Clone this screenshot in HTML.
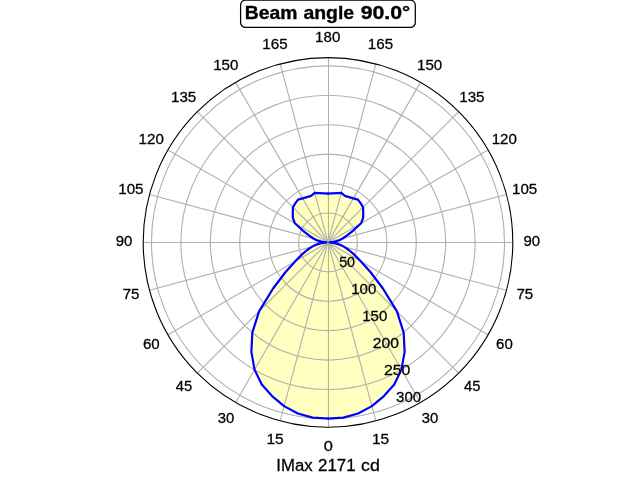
<!DOCTYPE html>
<html><head><meta charset="utf-8"><title>Beam angle</title>
<style>
html,body{margin:0;padding:0;background:#fff;}
body{width:640px;height:480px;overflow:hidden;font-family:"Liberation Sans",sans-serif;}
svg{display:block;}
text{font-family:"Liberation Sans",sans-serif;fill:#000;}
</style></head><body>
<svg width="640" height="480" viewBox="0 0 640 480">
<rect x="0" y="0" width="640" height="480" fill="#ffffff"/>

<path d="M328.00 242.40 L328.00 418.50 L343.33 417.63 L358.18 413.56 L371.87 406.12 L383.92 396.04 L394.22 384.42 L401.45 369.62 L404.63 351.84 L403.66 332.56 L396.94 311.34 L382.93 288.49 L370.60 272.23 L360.74 261.30 L354.28 254.66 L348.86 249.99 L343.84 246.64 L339.62 244.45 L334.18 242.94 L329.60 242.40 L334.18 241.86 L338.83 240.49 L342.68 238.47 L347.08 235.46 L352.92 230.78 L361.08 223.30 L363.14 217.79 L363.24 212.83 L363.07 207.33 L360.78 203.33 L357.94 199.64 L353.40 198.41 L349.13 197.08 L344.93 195.89 L341.28 192.85 L336.70 193.06 L332.30 193.29 L328.00 193.50 L328.00 242.40 Z" fill="#ffffbf" stroke="none"/>
<path d="M328.00 242.40 L328.00 418.50 L312.67 417.63 L297.82 413.56 L284.13 406.12 L272.08 396.04 L261.78 384.42 L254.55 369.62 L251.37 351.84 L252.34 332.56 L259.06 311.34 L273.07 288.49 L285.40 272.23 L295.26 261.30 L301.72 254.66 L307.14 249.99 L312.16 246.64 L316.38 244.45 L321.82 242.94 L326.40 242.40 L321.82 241.86 L317.17 240.49 L313.32 238.47 L308.92 235.46 L303.08 230.78 L294.92 223.30 L292.86 217.79 L292.76 212.83 L292.93 207.33 L295.22 203.33 L298.06 199.64 L302.60 198.41 L306.87 197.08 L311.07 195.89 L314.72 192.85 L319.30 193.06 L323.70 193.29 L328.00 193.50 L328.00 242.40 Z" fill="#ffffbf" stroke="none"/>
<rect x="327" y="193.50" width="1" height="225.00" fill="#ffff84"/>
<g stroke="#b0b0b0" stroke-width="1.11" fill="none">
<circle cx="328.00" cy="242.40" r="29.42"/>
<circle cx="328.00" cy="242.40" r="58.84"/>
<circle cx="328.00" cy="242.40" r="88.26"/>
<circle cx="328.00" cy="242.40" r="117.68"/>
<circle cx="328.00" cy="242.40" r="147.10"/>
<circle cx="328.00" cy="242.40" r="176.52"/>
<line x1="328.00" y1="242.40" x2="375.83" y2="420.90"/>
<line x1="328.00" y1="242.40" x2="280.17" y2="420.90"/>
<line x1="328.00" y1="242.40" x2="420.40" y2="402.44"/>
<line x1="328.00" y1="242.40" x2="235.60" y2="402.44"/>
<line x1="328.00" y1="242.40" x2="458.67" y2="373.07"/>
<line x1="328.00" y1="242.40" x2="197.33" y2="373.07"/>
<line x1="328.00" y1="242.40" x2="488.04" y2="334.80"/>
<line x1="328.00" y1="242.40" x2="167.96" y2="334.80"/>
<line x1="328.00" y1="242.40" x2="506.50" y2="290.23"/>
<line x1="328.00" y1="242.40" x2="149.50" y2="290.23"/>
<line x1="328.00" y1="242.40" x2="506.50" y2="194.57"/>
<line x1="328.00" y1="242.40" x2="149.50" y2="194.57"/>
<line x1="328.00" y1="242.40" x2="488.04" y2="150.00"/>
<line x1="328.00" y1="242.40" x2="167.96" y2="150.00"/>
<line x1="328.00" y1="242.40" x2="458.67" y2="111.73"/>
<line x1="328.00" y1="242.40" x2="197.33" y2="111.73"/>
<line x1="328.00" y1="242.40" x2="420.40" y2="82.36"/>
<line x1="328.00" y1="242.40" x2="235.60" y2="82.36"/>
<line x1="328.00" y1="242.40" x2="375.83" y2="63.90"/>
<line x1="328.00" y1="242.40" x2="280.17" y2="63.90"/>
</g>
<rect x="328" y="57.60" width="1" height="369.60" fill="#b0b0b0"/>
<rect x="143.20" y="242" width="369.60" height="1" fill="#b0b0b0"/>
<path d="M328.00 418.50 L343.33 417.63 L358.18 413.56 L371.87 406.12 L383.92 396.04 L394.22 384.42 L401.45 369.62 L404.63 351.84 L403.66 332.56 L396.94 311.34 L382.93 288.49 L370.60 272.23 L360.74 261.30 L354.28 254.66 L348.86 249.99 L343.84 246.64 L339.62 244.45 L334.18 242.94 L329.60 242.40 L334.18 241.86 L338.83 240.49 L342.68 238.47 L347.08 235.46 L352.92 230.78 L361.08 223.30 L363.14 217.79 L363.24 212.83 L363.07 207.33 L360.78 203.33 L357.94 199.64 L353.40 198.41 L349.13 197.08 L344.93 195.89 L341.28 192.85 L336.70 193.06 L332.30 193.29 L328.00 193.50" fill="none" stroke="#0000ff" stroke-width="2.2" stroke-linejoin="round" stroke-linecap="square"/>
<path d="M328.00 418.50 L312.67 417.63 L297.82 413.56 L284.13 406.12 L272.08 396.04 L261.78 384.42 L254.55 369.62 L251.37 351.84 L252.34 332.56 L259.06 311.34 L273.07 288.49 L285.40 272.23 L295.26 261.30 L301.72 254.66 L307.14 249.99 L312.16 246.64 L316.38 244.45 L321.82 242.94 L326.40 242.40 L321.82 241.86 L317.17 240.49 L313.32 238.47 L308.92 235.46 L303.08 230.78 L294.92 223.30 L292.86 217.79 L292.76 212.83 L292.93 207.33 L295.22 203.33 L298.06 199.64 L302.60 198.41 L306.87 197.08 L311.07 195.89 L314.72 192.85 L319.30 193.06 L323.70 193.29 L328.00 193.50" fill="none" stroke="#0000ff" stroke-width="2.2" stroke-linejoin="round" stroke-linecap="square"/>
<circle cx="328.00" cy="242.40" r="184.80" fill="none" stroke="#000" stroke-width="1.11"/>
<g opacity="0.999">
<text transform="translate(323.84 451.00) scale(1.1483 1)" font-size="14.30" font-weight="normal" stroke="#000" stroke-width="0.28">0</text>
<text transform="translate(371.90 444.00) scale(1.0823 1)" font-size="14.30" font-weight="normal" stroke="#000" stroke-width="0.28">15</text>
<text transform="translate(266.38 444.00) scale(1.0823 1)" font-size="14.30" font-weight="normal" stroke="#000" stroke-width="0.28">15</text>
<text transform="translate(421.63 423.00) scale(1.0405 1)" font-size="14.30" font-weight="normal" stroke="#000" stroke-width="0.28">30</text>
<text transform="translate(217.78 423.00) scale(1.0405 1)" font-size="14.30" font-weight="normal" stroke="#000" stroke-width="0.28">30</text>
<text transform="translate(464.08 391.00) scale(1.0305 1)" font-size="14.30" font-weight="normal" stroke="#000" stroke-width="0.28">45</text>
<text transform="translate(175.79 391.00) scale(1.0305 1)" font-size="14.30" font-weight="normal" stroke="#000" stroke-width="0.28">45</text>
<text transform="translate(496.09 349.00) scale(1.0507 1)" font-size="14.30" font-weight="normal" stroke="#000" stroke-width="0.28">60</text>
<text transform="translate(143.01 349.00) scale(1.0507 1)" font-size="14.30" font-weight="normal" stroke="#000" stroke-width="0.28">60</text>
<text transform="translate(516.45 299.00) scale(1.0558 1)" font-size="14.30" font-weight="normal" stroke="#000" stroke-width="0.28">75</text>
<text transform="translate(122.64 299.00) scale(1.0558 1)" font-size="14.30" font-weight="normal" stroke="#000" stroke-width="0.28">75</text>
<text transform="translate(523.48 246.00) scale(1.0456 1)" font-size="14.30" font-weight="normal" stroke="#000" stroke-width="0.28">90</text>
<text transform="translate(115.78 246.00) scale(1.0456 1)" font-size="14.30" font-weight="normal" stroke="#000" stroke-width="0.28">90</text>
<text transform="translate(512.02 194.00) scale(1.0602 1)" font-size="14.30" font-weight="normal" stroke="#000" stroke-width="0.28">105</text>
<text transform="translate(118.21 194.00) scale(1.0602 1)" font-size="14.30" font-weight="normal" stroke="#000" stroke-width="0.28">105</text>
<text transform="translate(491.66 144.00) scale(1.0568 1)" font-size="14.30" font-weight="normal" stroke="#000" stroke-width="0.28">120</text>
<text transform="translate(138.58 144.00) scale(1.0568 1)" font-size="14.30" font-weight="normal" stroke="#000" stroke-width="0.28">120</text>
<text transform="translate(459.26 102.00) scale(1.0602 1)" font-size="14.30" font-weight="normal" stroke="#000" stroke-width="0.28">135</text>
<text transform="translate(170.97 102.00) scale(1.0602 1)" font-size="14.30" font-weight="normal" stroke="#000" stroke-width="0.28">135</text>
<text transform="translate(417.04 70.00) scale(1.0568 1)" font-size="14.30" font-weight="normal" stroke="#000" stroke-width="0.28">150</text>
<text transform="translate(213.19 70.00) scale(1.0568 1)" font-size="14.30" font-weight="normal" stroke="#000" stroke-width="0.28">150</text>
<text transform="translate(367.87 49.00) scale(1.0602 1)" font-size="14.30" font-weight="normal" stroke="#000" stroke-width="0.28">165</text>
<text transform="translate(262.35 49.00) scale(1.0602 1)" font-size="14.30" font-weight="normal" stroke="#000" stroke-width="0.28">165</text>
<text transform="translate(315.12 42.00) scale(1.0568 1)" font-size="14.30" font-weight="normal" stroke="#000" stroke-width="0.28">180</text>
<text transform="translate(339.13 267.00) scale(1.0000 1)" font-size="14.30" font-weight="normal" stroke="#000" stroke-width="0.28">50</text>
<text transform="translate(351.17 294.00) scale(1.0523 1)" font-size="14.30" font-weight="normal" stroke="#000" stroke-width="0.28">100</text>
<text transform="translate(362.17 321.00) scale(1.0523 1)" font-size="14.30" font-weight="normal" stroke="#000" stroke-width="0.28">150</text>
<text transform="translate(372.72 348.00) scale(1.0976 1)" font-size="14.30" font-weight="normal" stroke="#000" stroke-width="0.28">200</text>
<text transform="translate(383.91 375.00) scale(1.1065 1)" font-size="14.30" font-weight="normal" stroke="#000" stroke-width="0.28">250</text>
<text transform="translate(396.10 402.00) scale(1.0555 1)" font-size="14.30" font-weight="normal" stroke="#000" stroke-width="0.28">300</text>
</g>
<rect x="240.6" y="0.2" width="174.7" height="27.2" rx="4.8" ry="4.8" fill="#fff" stroke="#000" stroke-width="1.25"/>
<g opacity="0.999">
<text transform="translate(244.84 19.00) scale(1.0736 1)" font-size="18.00" font-weight="bold" stroke="#000" stroke-width="0.35">Beam</text>
<text transform="translate(303.42 19.00) scale(1.0806 1)" font-size="18.00" font-weight="bold" stroke="#000" stroke-width="0.35">angle</text>
<text transform="translate(360.65 19.00) scale(1.1839 1)" font-size="18.00" font-weight="bold" stroke="#000" stroke-width="0.35">90.0</text>
<text transform="translate(401.89 18.00) scale(1.1885 1)" font-size="17.10" font-weight="bold" stroke="#000" stroke-width="0.35">°</text>
<text transform="translate(276.29 471.00) scale(1.0343 1)" font-size="16.20" font-weight="normal" stroke="#000" stroke-width="0.28">IMax</text>
<text transform="translate(318.06 471.00) scale(1.0414 1)" font-size="16.20" font-weight="normal" stroke="#000" stroke-width="0.28">2171</text>
<text transform="translate(361.10 471.00) scale(1.1007 1)" font-size="16.20" font-weight="normal" stroke="#000" stroke-width="0.28">cd</text>
</g>
</svg></body></html>
